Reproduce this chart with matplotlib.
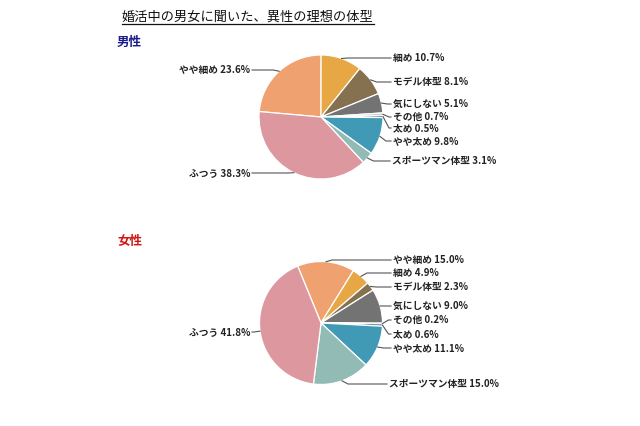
import matplotlib
matplotlib.use("Agg")
import matplotlib.pyplot as plt
import numpy as np

plt.rcParams['font.family'] = ['Noto Sans CJK JP', 'DejaVu Sans']

# データ（時計回り、やや細め から）
categories = ['やや細め', '細め', 'モデル体型', '気にしない', 'その他',
              '太め', 'やや太め', 'スポーツマン体型', 'ふつう']
male_values = [23.6, 10.7, 8.1, 5.1, 0.7, 0.5, 9.8, 3.1, 38.3]
female_values = [15.0, 4.9, 2.3, 9.0, 0.2, 0.6, 11.1, 15.0, 41.8]

colors = ['#EFA170', '#E6A744', '#85714F', '#737373', '#D0D0D0',
          '#1D4E6E', '#409AB5', '#93BBB6', '#DC979F']

# ラベル位置（画像上のピクセル、y は上から）
male_label_pos = [(250, 70), (393, 58), (393, 82), (393, 104), (393, 117),
                  (393, 128), (393, 141), (392, 161), (250, 173)]
female_label_pos = [(393, 260), (393, 273), (393, 287), (393, 306), (393, 320),
                    (393, 334), (393, 348), (389, 384), (250, 332)]

H = 426

fig = plt.figure(figsize=(6.4, 4.26), dpi=100)
ax = fig.add_axes([0, 0, 1, 1])


def dibujar_pie(values, center_px, radius, startangle, label_pos):
    cx, cy = center_px[0], H - center_px[1]
    wedges, _ = ax.pie(values, colors=colors, startangle=startangle,
                       counterclock=False, center=(cx, cy), radius=radius,
                       wedgeprops=dict(edgecolor='white', linewidth=0.9))
    for w, cat, val, (tx, ty) in zip(wedges, categories, values, label_pos):
        ty = H - ty
        mid = np.deg2rad((w.theta1 + w.theta2) / 2)
        px = cx + radius * np.cos(mid)
        py = cy + radius * np.sin(mid)
        if tx > cx:
            ex = px + 6
            ax.plot([px, ex, tx - 2], [py, ty, ty], color='#555555', lw=0.8)
            ax.text(tx, ty, f'{cat} {val:.1f}%', ha='left', va='center',
                    fontsize=7, fontweight='bold', color='#222222')
        else:
            ex = px - 6
            ax.plot([px, ex, tx + 2], [py, ty, ty], color='#555555', lw=0.8)
            ax.text(tx, ty, f'{cat} {val:.1f}%', ha='right', va='center',
                    fontsize=7, fontweight='bold', color='#222222')


dibujar_pie(male_values, (321, 117), 62, 90 + male_values[0] * 3.6, male_label_pos)
dibujar_pie(female_values, (321, 323), 61.5, 112.3, female_label_pos)

ax.set_xlim(0, 640)
ax.set_ylim(0, H)
ax.set_aspect('equal')
ax.axis('off')

# タイトル（下線付き）
titulo = ax.text(122, H - 17, '婚活中の男女に聞いた、異性の理想の体型',
                 ha='left', va='center', fontsize=9.5, color='#111111')
fig.canvas.draw()
bb = titulo.get_window_extent().transformed(ax.transData.inverted())
ax.plot([bb.x0, bb.x1], [bb.y0 - 0.5, bb.y0 - 0.5], color='#111111', lw=0.9)

ax.text(117, H - 42, '男性', ha='left', va='center', fontsize=9,
        fontweight='bold', color='#1A1A8C')
ax.text(117, H - 242, '女性', ha='left', va='center', fontsize=9,
        fontweight='bold', color='#D01515')

fig.savefig('out.png', dpi=100, facecolor='white')
